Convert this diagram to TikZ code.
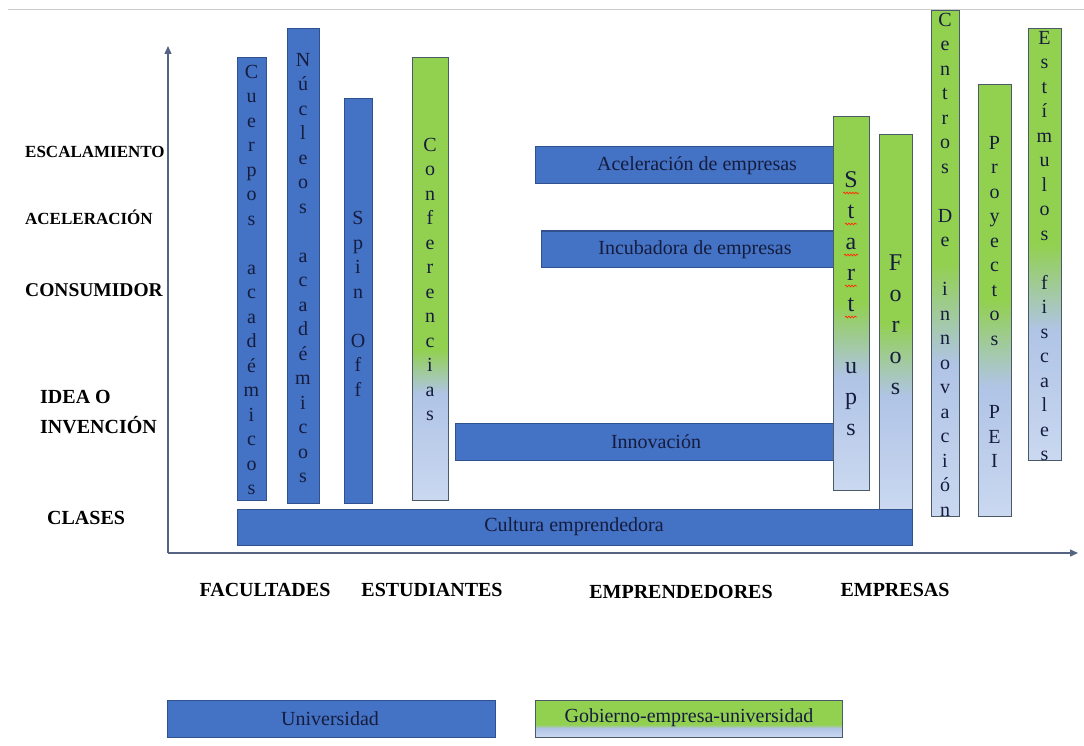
\documentclass[tikz,border=0pt]{standalone}
\usepackage{fontspec}
\setmainfont{Liberation Serif}
\usetikzlibrary{arrows.meta,decorations.pathmorphing}
\definecolor{ublue}{RGB}{68,114,196}
\definecolor{ubord}{RGB}{47,82,143}
\definecolor{ggreen}{RGB}{146,208,80}
\definecolor{lblue}{RGB}{176,196,230}
\definecolor{lblueb}{RGB}{202,216,240}
\definecolor{gbord}{RGB}{75,90,105}
\definecolor{txtc}{RGB}{22,28,62}
\definecolor{axisc}{RGB}{85,100,130}
\pgfdeclareverticalshading{gbA}{100bp}{color(0bp)=(lblueb); color(25bp)=(lblueb); color(40bp)=(lblue); color(50bp)=(ggreen); color(100bp)=(ggreen)}
\pgfdeclareverticalshading{gbB}{100bp}{color(0bp)=(lblueb); color(25bp)=(lblueb); color(37bp)=(lblue); color(42bp)=(ggreen); color(100bp)=(ggreen)}
\tikzset{
  ubar/.style={fill=ublue, draw=ubord, line width=1pt},
  gbar/.style={shading=gbA, draw=gbord, line width=1pt},
  gbarb/.style={shading=gbB, draw=gbord, line width=1pt},
  vtext/.style={text width=28pt, align=center, anchor=base, inner sep=0pt, text=txtc, font=\fontsize{20}{24.5}\selectfont},
  vbig/.style={text width=30pt, align=center, anchor=base, inner sep=0pt, text=txtc, font=\fontsize{24}{31}\selectfont},
  htext/.style={inner sep=0pt, text=txtc, font=\fontsize{20}{24}\selectfont},
  lab/.style={inner sep=0pt, anchor=west, text=black, font=\bfseries\fontsize{20}{30}\selectfont},
  labs/.style={lab, font=\bfseries\fontsize{17}{24}\selectfont},
  blab/.style={inner sep=0pt, text=black, font=\bfseries\fontsize{20}{24}\selectfont},
  axisline/.style={draw=axisc, line width=1.3pt, -{Triangle[length=8pt,width=7pt]}},
  squig/.style={draw=red!65!orange, line width=0.7pt, decorate, decoration={snake, amplitude=0.9pt, segment length=3pt}}
}
\begin{document}
\begin{tikzpicture}[x=1pt,y=-1pt]
\useasboundingbox (0,0) rectangle (1084,746);
% top rule
\coordinate (tl) at (8,10);
\coordinate (tr) at (1084,10);
\draw[gray!40, line width=1pt] (tl) -- (tr);
% axes
\coordinate (o) at (168,553);
\coordinate (ytip) at (168,46);
\coordinate (xtip) at (1078,553);
\draw[axisline] (o) -- (ytip);
\draw[axisline] (o) -- (xtip);

% horizontal bars (under Start ups)
\path[ubar] (455,423) rectangle (835,460);
\node[htext] (tinnov) at (656,442) {Innovación};
\path[ubar] (535,147) rectangle (835,184);
\node[htext] (tacel) at (697,166) {Aceleración de empresas};
\path[ubar] (541,231) rectangle (835,267);
\node[htext] (tincub) at (695,250) {Incubadora de empresas};

% university bars
\path[ubar] (237,58) rectangle (266,500);
\node[vtext] (tcuerpos) at (251.5,78.5) {C\\u\\e\\r\\p\\o\\s\\~\\a\\c\\a\\d\\é\\m\\i\\c\\o\\s};
\path[ubar] (287,29) rectangle (319,503);
\node[vtext] (tnucleos) at (303,66.5) {N\\ú\\c\\l\\e\\o\\s\\~\\a\\c\\a\\d\\é\\m\\i\\c\\o\\s};
\path[ubar] (344,99) rectangle (372,503);
\node[vtext] (tspin) at (358,225) {S\\p\\i\\n\\~\\O\\f\\f};

% mixed bars
\path[gbarb] (412,58) rectangle (448,500);
\node[vtext] (tconf) at (430,151.5) {C\\o\\n\\f\\e\\r\\e\\n\\c\\i\\a\\s};
\path[gbar] (833,117) rectangle (869,490);
\node[vbig] (tstart) at (851,188) {S\\t\\a\\r\\t\\~\\u\\p\\s};
\coordinate (q1a) at (843,193); \coordinate (q1b) at (859,193);
\coordinate (q2a) at (845,224); \coordinate (q2b) at (857,224);
\coordinate (q3a) at (844,255); \coordinate (q3b) at (858,255);
\coordinate (q4a) at (845,286); \coordinate (q4b) at (857,286);
\coordinate (q5a) at (845,317); \coordinate (q5b) at (857,317);
\draw[squig] (q1a) -- (q1b);
\draw[squig] (q2a) -- (q2b);
\draw[squig] (q3a) -- (q3b);
\draw[squig] (q4a) -- (q4b);
\draw[squig] (q5a) -- (q5b);
\path[gbar] (879,135) rectangle (912,509);
\node[vbig] (tforos) at (895.5,270) {F\\o\\r\\o\\s};
\path[gbar] (931,11) rectangle (959,516);
\node[vtext] (tcentros) at (945,26.5) {C\\e\\n\\t\\r\\o\\s\\~\\D\\e\\~\\i\\n\\n\\o\\v\\a\\c\\i\\ó\\n};
\path[gbar] (978,85) rectangle (1011,516);
\node[vtext] (tproy) at (994.5,149.5) {P\\r\\o\\y\\e\\c\\t\\o\\s\\~\\~\\P\\E\\I};
\path[gbar] (1028,29) rectangle (1061,460);
\node[vtext] (testim) at (1044.5,44.5) {E\\s\\t\\í\\m\\u\\l\\o\\s\\~\\f\\i\\s\\c\\a\\l\\e\\s};

% base bar
\path[ubar] (237,509) rectangle (912,545);
\node[htext] (tcult) at (574,527) {Cultura emprendedora};

% vertical axis labels
\node[labs] (lesc) at (25,152) {ESCALAMIENTO};
\node[labs] (lacel) at (25,217) {ACELERACIÓN};
\node[lab, font=\bfseries\fontsize{19.5}{30}\selectfont] (lcons) at (25,290) {CONSUMIDOR};
\node[lab, align=left] (lidea) at (40,412) {IDEA O\\INVENCIÓN};
\node[lab] (lclases) at (47,518) {CLASES};

% horizontal axis labels
\node[blab] (lfac) at (265,590) {FACULTADES};
\node[blab] (lest) at (432,590) {ESTUDIANTES};
\node[blab] (lemp) at (681,592) {EMPRENDEDORES};
\node[blab] (lempr) at (895,590) {EMPRESAS};

% legend
\path[ubar] (167,700) rectangle (495,737);
\node[htext] (luni) at (330,719) {Universidad};
\path[gbarb] (535,700) rectangle (842,737);
\node[htext] (lgob) at (689,718) {Gobierno-empresa-universidad};
\end{tikzpicture}
\end{document}
